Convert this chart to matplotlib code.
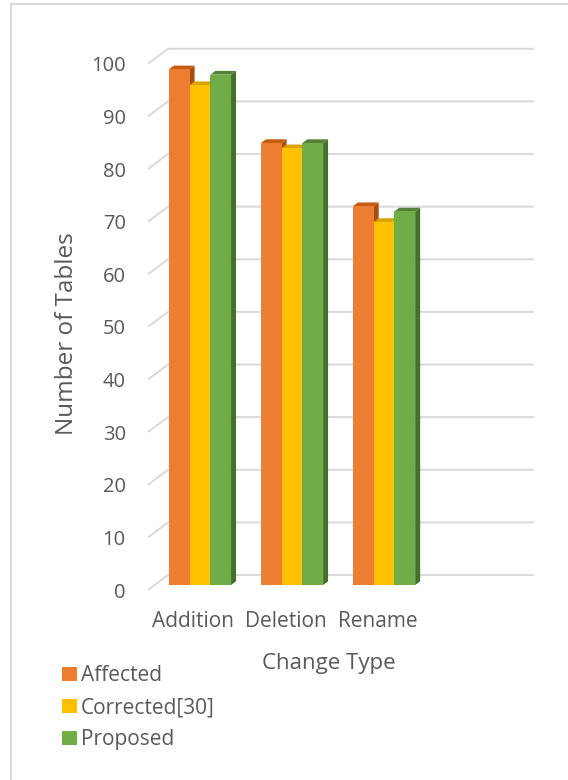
import numpy as np
import matplotlib.pyplot as plt
from matplotlib.patches import Polygon, Patch
from matplotlib.lines import Line2D

plt.rcParams['font.family'] = ['Open Sans', 'DejaVu Sans']

categories = ['Addition', 'Deletion', 'Rename']
series = ['Affected', 'Corrected[30]', 'Proposed']
affected = [98, 84, 72]
corrected = [95, 83, 69]
proposed = [97, 84, 71]
yticks = list(range(0, 101, 10))

front = ['#ED7D31', '#FFC000', '#70AD47']
top = ['#C55A11', '#D9A300', '#548235']
side = ['#A94E12', '#BF8F00', '#45702A']
grid_c = '#D9D9D9'
text_c = '#595959'

# fake 3d: depth vector of the floor/back wall in data units
wall_dx, wall_dy = 0.217, 2.85
bar_f = 0.33                 # depth fraction where the bar fronts sit
bar_ddx, bar_ddy = 0.054, 0.71
bw = 0.225

W, H = 568, 780
fig = plt.figure(figsize=(W / 100, H / 100), dpi=100)
ax = fig.add_axes([148 / W, (H - 590) / H, (534 - 148) / W, (590 - 48) / H])
xmin, xmax = -0.493, 3.70
ax.set_xlim(xmin, xmax)
ax.set_ylim(0, 103)

# gridlines: short diagonal on the side then along the back wall
for v in yticks:
    ax.plot([xmin, xmin + wall_dx, xmax], [v, v + wall_dy, v + wall_dy],
            color=grid_c, lw=1.4, zorder=1, clip_on=False, solid_capstyle='butt')

vals = [affected, corrected, proposed]
x = np.arange(len(categories))
ox, oy = bar_f * wall_dx, bar_f * wall_dy
for i in range(len(categories)):
    for k in range(3):
        x0 = x[i] + (k - 1.5) * bw + ox
        x1 = x0 + bw
        base = oy
        t = oy + vals[k][i]
        z = 3 + k
        ax.add_patch(Polygon([(x1, base), (x1, t), (x1 + bar_ddx, t + bar_ddy),
                              (x1 + bar_ddx, base + bar_ddy)],
                             closed=True, fc=side[k], ec='none', zorder=z, clip_on=False))
        ax.add_patch(Polygon([(x0, t), (x1, t), (x1 + bar_ddx, t + bar_ddy),
                              (x0 + bar_ddx, t + bar_ddy)],
                             closed=True, fc=top[k], ec='none', zorder=z, clip_on=False))
        ax.bar(x0, vals[k][i], width=bw, bottom=base, align='edge',
               color=front[k], zorder=z, clip_on=False)

for s in ax.spines.values():
    s.set_visible(False)
ax.set_yticks(yticks)
ax.set_xticks(x)
ax.set_xticklabels(categories)
ax.tick_params(length=0, labelcolor=text_c)
ax.tick_params(axis='y', pad=16, labelsize=14.5)
ax.tick_params(axis='x', pad=15, labelsize=15)

ax.set_ylabel('Number of Tables', fontsize=17.5, color=text_c, va='center')
ax.yaxis.set_label_coords((67 - 148) / 386, (590 - 334) / 542)
ax.set_xlabel('Change Type', fontsize=16, color=text_c, va='center')
ax.xaxis.set_label_coords((329 - 148) / 386, (590 - 663) / 542)

handles = [Patch(fc=c, ec='none') for c in front]
fig.legend(handles, series, loc='upper left', bbox_to_anchor=(54 / W, 1 - 657 / H),
           frameon=False, fontsize=15, labelcolor=text_c, handlelength=0.68,
           handleheight=0.68, handletextpad=0.22, labelspacing=0.52, borderaxespad=0)

# chart area border (left and top edges)
fig.add_artist(Line2D([11 / W, 11 / W], [0, 1 - 4 / H], color=grid_c, lw=1.5))
fig.add_artist(Line2D([11 / W, 1], [1 - 4 / H, 1 - 4 / H], color=grid_c, lw=1.5))

fig.savefig('out.png', dpi=100)
